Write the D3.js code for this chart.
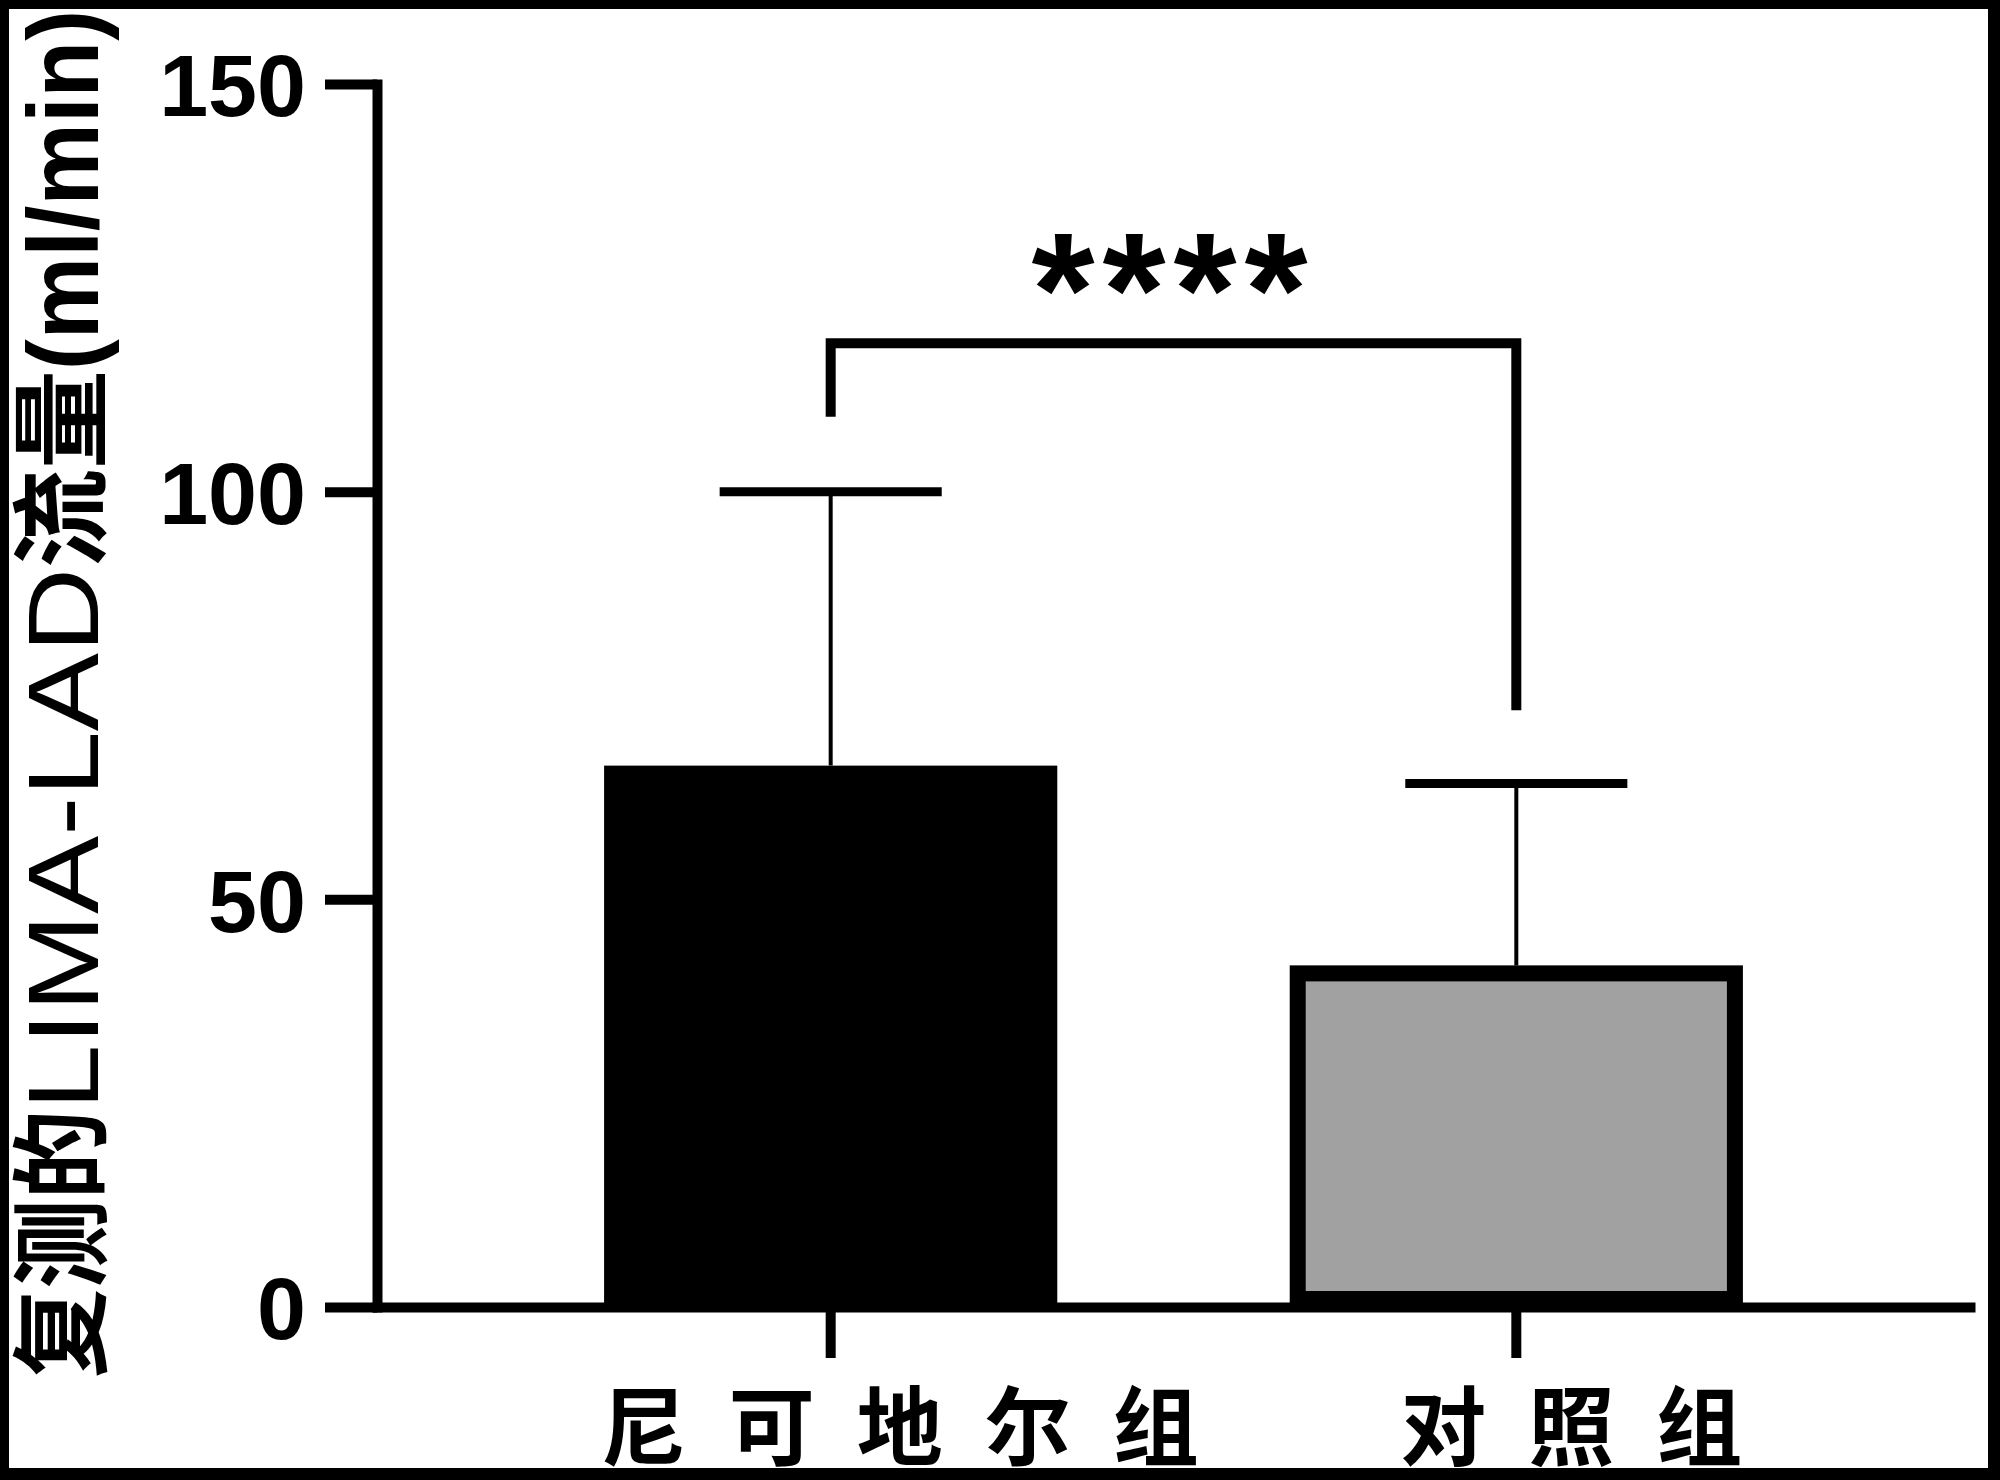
<!DOCTYPE html>
<html>
<head>
<meta charset="utf-8">
<script src="https://cdn.jsdelivr.net/npm/d3@7"></script>
<style>
  body { margin: 0; background: #fff; }
  svg { display: block; }
</style>
</head>
<body>
<div id="chart"></div>
<script>
// datos
const groups = ["尼可地尔组", "对照组"];
const means = [66.4, 41.9];
const sds = [33.6, 22.3];
const yTicks = [0, 50, 100, 150];
const sig = { label: "****", top: 118.2, leftEnd: 109.2, rightEnd: 73.2 };
const yLabelParts = ["复测的", "LIMA-LAD", "流量", "(ml/min)"];

const width = 2000;
const height = 1480;

const svg = d3
  .select("div#chart")
  .append("svg")
  .attr("width", width)
  .attr("height", height);

// marco negro
svg.append("rect").attr("width", width).attr("height", height).attr("fill", "#000");
svg.append("rect")
  .attr("x", 9).attr("y", 9)
  .attr("width", 1979).attr("height", 1459)
  .attr("fill", "#fff");

// escalas
const y = d3.scaleLinear().domain([0, 150]).range([1307, 84]);
const x = d3
  .scaleBand()
  .domain(groups)
  .range([372, 1975])
  .paddingInner(0.339)
  .paddingOuter(0.3385);

const bw = x.bandwidth();
const stroke = 16;

// barras
svg.append("g")
  .selectAll("rect")
  .data(groups)
  .join("rect")
  .attr("x", (d) => x(d) + stroke / 2)
  .attr("y", (d, i) => y(means[i]) + stroke / 2)
  .attr("width", bw - stroke)
  .attr("height", (d, i) => y(0) - y(means[i]) - stroke)
  .attr("fill", (d, i) => (i === 0 ? "#000" : "#a1a1a1"))
  .attr("stroke", "#000")
  .attr("stroke-width", stroke);

// barras de error
const err = svg.append("g").attr("stroke", "#000");
groups.forEach((g, i) => {
  const cx = x(g) + bw / 2;
  err.append("line")
    .attr("x1", cx).attr("x2", cx)
    .attr("y1", y(means[i])).attr("y2", y(means[i] + sds[i]))
    .attr("stroke-width", 4);
  err.append("line")
    .attr("x1", cx - bw * 0.245).attr("x2", cx + bw * 0.245)
    .attr("y1", y(means[i] + sds[i])).attr("y2", y(means[i] + sds[i]))
    .attr("stroke-width", 9);
});

// ejes
const yAxis = d3.axisLeft(y).tickValues(yTicks).tickSize(52).tickSizeOuter(0).tickPadding(19);
const xAxis = d3.axisBottom(x).tickSize(51).tickSizeOuter(0).tickPadding(27);

const yAxisGroup = svg.append("g").attr("transform", "translate(377,0)").call(yAxis);
const xAxisGroup = svg.append("g").attr("transform", `translate(0,${y(0)})`).call(xAxis);

[yAxisGroup, xAxisGroup].forEach((g) => {
  g.selectAll("path, line").attr("stroke", "#000").attr("stroke-width", 10);
});
yAxisGroup.select("path").attr("stroke-linecap", "square");

yAxisGroup.selectAll("text")
  .attr("fill", "#000")
  .style("font-family", "'Liberation Sans', Arial, sans-serif")
  .style("font-weight", "bold")
  .style("font-size", "88px")
  .attr("dy", "0.36em");

xAxisGroup.selectAll("text")
  .attr("fill", "#000")
  .attr("dx", (d, i) => (i === 0 ? 90 : 76))
  .attr("dy", "0.86em")
  .style("font-family", "'Noto Sans CJK SC', sans-serif")
  .style("font-weight", "bold")
  .style("font-size", "86px")
  .style("letter-spacing", "42px");

// significancia
const c1 = x(groups[0]) + bw / 2;
const c2 = x(groups[1]) + bw / 2;
svg.append("path")
  .attr("d", `M${c1},${y(sig.leftEnd)}V${y(sig.top)}H${c2}V${y(sig.rightEnd)}`)
  .attr("fill", "none")
  .attr("stroke", "#000")
  .attr("stroke-width", 10)
  .attr("stroke-linejoin", "miter");

svg.append("text")
  .attr("x", (c1 + c2) / 2)
  .attr("y", y(sig.top) + 2)
  .attr("text-anchor", "middle")
  .style("font-family", "'Liberation Sans', Arial, sans-serif")
  .style("font-weight", "bold")
  .style("font-size", "162px")
  .style("letter-spacing", "8px")
  .text(sig.label);

// titulo eje Y (rotado)
const partLen = [268, 542, 198, 360];
const partFont = ["'Noto Sans CJK SC', sans-serif", "'Liberation Sans', Arial, sans-serif",
  "'Noto Sans CJK SC', sans-serif", "'Liberation Sans', Arial, sans-serif"];
const partWeight = ["bold", "normal", "bold", "bold"];
const yLabel = svg.append("g").attr("transform", "translate(98,1378) rotate(-90)");
let pos = 0;
yLabelParts.forEach((t, i) => {
  yLabel.append("text")
    .attr("x", pos)
    .attr("y", 0)
    .attr("textLength", partLen[i])
    .attr("lengthAdjust", "spacingAndGlyphs")
    .style("font-family", partFont[i])
    .style("font-weight", partWeight[i])
    .style("font-size", "100px")
    .text(t);
  pos += partLen[i];
});
</script>
</body>
</html>
